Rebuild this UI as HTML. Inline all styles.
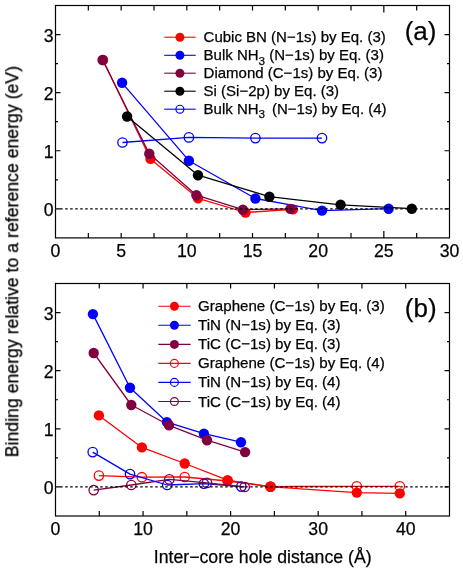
<!DOCTYPE html>
<html><head><meta charset="utf-8"><title>chart</title>
<style>html,body{margin:0;padding:0;background:#fff;overflow:hidden}svg{display:block}text{stroke:#000;stroke-width:0.25px;paint-order:stroke}</style>
</head><body>
<svg width="463" height="574" viewBox="0 0 463 574">
<rect width="463" height="574" fill="#fff"/>
<g font-family="'Liberation Sans', sans-serif" opacity="0.999"><g class="t">
<g stroke="#000" stroke-width="1.2" fill="none" stroke-linecap="butt">
<rect x="55.5" y="5.5" width="394.0" height="232.4"/>
<path d="M88.33 237.9 v-5 M88.33 5.5 v5"/>
<path d="M121.17 237.9 v-5 M121.17 5.5 v5"/>
<path d="M154.00 237.9 v-5 M154.00 5.5 v5"/>
<path d="M186.83 237.9 v-5 M186.83 5.5 v5"/>
<path d="M219.67 237.9 v-5 M219.67 5.5 v5"/>
<path d="M252.50 237.9 v-5 M252.50 5.5 v5"/>
<path d="M285.33 237.9 v-5 M285.33 5.5 v5"/>
<path d="M318.17 237.9 v-5 M318.17 5.5 v5"/>
<path d="M351.00 237.9 v-5 M351.00 5.5 v5"/>
<path d="M383.83 237.9 v-7 M383.83 5.5 v7"/>
<path d="M416.67 237.9 v-5 M416.67 5.5 v5"/>
<path d="M55.5 208.85 h5 M449.5 208.85 h-5"/>
<path d="M55.5 179.80 h2.5 M449.5 179.80 h-2.5"/>
<path d="M55.5 150.75 h5 M449.5 150.75 h-5"/>
<path d="M55.5 121.70 h2.5 M449.5 121.70 h-2.5"/>
<path d="M55.5 92.65 h5 M449.5 92.65 h-5"/>
<path d="M55.5 63.60 h2.5 M449.5 63.60 h-2.5"/>
<path d="M55.5 34.55 h5 M449.5 34.55 h-5"/>
</g>
<g font-size="17.7" fill="#000">
<text x="55.50" y="256.80" text-anchor="middle">0</text>
<text x="121.17" y="256.80" text-anchor="middle">5</text>
<text x="186.83" y="256.80" text-anchor="middle">10</text>
<text x="252.50" y="256.80" text-anchor="middle">15</text>
<text x="318.17" y="256.80" text-anchor="middle">20</text>
<text x="383.83" y="256.80" text-anchor="middle">25</text>
<text x="449.50" y="256.80" text-anchor="middle">30</text>
<text x="53.50" y="215.95" text-anchor="end">0</text>
<text x="53.50" y="157.85" text-anchor="end">1</text>
<text x="53.50" y="99.75" text-anchor="end">2</text>
<text x="53.50" y="41.65" text-anchor="end">3</text>
</g>
<path d="M103.0 60.0 L150.5 158.9 L198.0 198.3 L245.5 212.5 L292.9 209.4" fill="none" stroke="#ff0000" stroke-width="1.3" stroke-linejoin="round"/>
<circle cx="103.0" cy="60.0" r="5.2" fill="#ff0000"/>
<circle cx="150.5" cy="158.9" r="5.2" fill="#ff0000"/>
<circle cx="198.0" cy="198.3" r="5.2" fill="#ff0000"/>
<circle cx="245.5" cy="212.5" r="5.2" fill="#ff0000"/>
<circle cx="292.9" cy="209.4" r="5.2" fill="#ff0000"/>
<path d="M122.1 82.8 L188.9 160.7 L255.4 198.5 L322.0 210.6 L388.6 208.7" fill="none" stroke="#0000ff" stroke-width="1.3" stroke-linejoin="round"/>
<circle cx="122.1" cy="82.8" r="5.2" fill="#0000ff"/>
<circle cx="188.9" cy="160.7" r="5.2" fill="#0000ff"/>
<circle cx="255.4" cy="198.5" r="5.2" fill="#0000ff"/>
<circle cx="322.0" cy="210.6" r="5.2" fill="#0000ff"/>
<circle cx="388.6" cy="208.7" r="5.2" fill="#0000ff"/>
<path d="M102.6 60.0 L149.3 153.7 L196.4 195.2 L242.9 209.7 L290.4 208.9" fill="none" stroke="#800040" stroke-width="1.3" stroke-linejoin="round"/>
<circle cx="102.6" cy="60.0" r="5.2" fill="#800040"/>
<circle cx="149.3" cy="153.7" r="5.2" fill="#800040"/>
<circle cx="196.4" cy="195.2" r="5.2" fill="#800040"/>
<circle cx="242.9" cy="209.7" r="5.2" fill="#800040"/>
<circle cx="290.4" cy="208.9" r="5.2" fill="#800040"/>
<path d="M127.1 116.5 L198.0 175.2 L269.4 196.7 L340.6 204.8 L411.8 208.7" fill="none" stroke="#000000" stroke-width="1.3" stroke-linejoin="round"/>
<circle cx="127.1" cy="116.5" r="5.2" fill="#000000"/>
<circle cx="198.0" cy="175.2" r="5.2" fill="#000000"/>
<circle cx="269.4" cy="196.7" r="5.2" fill="#000000"/>
<circle cx="340.6" cy="204.8" r="5.2" fill="#000000"/>
<circle cx="411.8" cy="208.7" r="5.2" fill="#000000"/>
<path d="M122.5 142.5 L188.9 137.4 L255.4 138.1 L322.0 138.1" fill="none" stroke="#0000ff" stroke-width="1.3" stroke-linejoin="round"/>
<circle cx="122.5" cy="142.5" r="4.7" fill="none" stroke="#0000ff" stroke-width="1.3"/>
<circle cx="188.9" cy="137.4" r="4.7" fill="none" stroke="#0000ff" stroke-width="1.3"/>
<circle cx="255.4" cy="138.1" r="4.7" fill="none" stroke="#0000ff" stroke-width="1.3"/>
<circle cx="322.0" cy="138.1" r="4.7" fill="none" stroke="#0000ff" stroke-width="1.3"/>
<path d="M60.2 208.8 H449.5" stroke="#000" stroke-width="1.3" stroke-dasharray="2.5 2.5" fill="none"/>
<path d="M164.2 37.2 H195.7" stroke="#ff0000" stroke-width="1.1"/>
<circle cx="179.9" cy="37.2" r="4.5" fill="#ff0000"/>
<text x="203.6" y="42.00" font-size="15.0">Cubic BN (N−1s) by Eq. (3)</text>
<path d="M164.2 55.3 H195.7" stroke="#0000ff" stroke-width="1.1"/>
<circle cx="179.9" cy="55.3" r="4.5" fill="#0000ff"/>
<text x="203.6" y="60.10" font-size="15.0">Bulk NH<tspan font-size="11.7" dy="4.4">3</tspan><tspan dy="-4.4"> (N−1s) by Eq. (3)</tspan></text>
<path d="M164.2 73.2 H195.7" stroke="#800040" stroke-width="1.1"/>
<circle cx="179.9" cy="73.2" r="4.5" fill="#800040"/>
<text x="203.6" y="78.00" font-size="15.0">Diamond (C−1s) by Eq. (3)</text>
<path d="M164.2 91.2 H195.7" stroke="#000000" stroke-width="1.1"/>
<circle cx="179.9" cy="91.2" r="4.5" fill="#000000"/>
<text x="203.6" y="96.00" font-size="15.0">Si (Si−2p) by Eq. (3)</text>
<path d="M164.2 109.2 H195.7" stroke="#0000ff" stroke-width="1.1"/>
<circle cx="179.9" cy="109.2" r="3.95" fill="none" stroke="#0000ff" stroke-width="1.2"/>
<text x="203.6" y="114.00" font-size="15.0">Bulk NH<tspan font-size="11.7" dy="4.4">3</tspan><tspan dy="-4.4" dx="2.7"> (N−1s) by Eq. (4)</tspan></text>
<text x="404.7" y="40.3" font-size="26.0">(a)</text>
<g stroke="#000" stroke-width="1.2" fill="none" stroke-linecap="butt">
<rect x="55.5" y="283.5" width="394.0" height="232.5"/>
<path d="M99.28 516.0 v-5 M99.28 283.5 v5"/>
<path d="M143.06 516.0 v-5 M143.06 283.5 v5"/>
<path d="M186.83 516.0 v-5 M186.83 283.5 v5"/>
<path d="M230.61 516.0 v-5 M230.61 283.5 v5"/>
<path d="M274.39 516.0 v-5 M274.39 283.5 v5"/>
<path d="M318.17 516.0 v-5 M318.17 283.5 v5"/>
<path d="M361.94 516.0 v-5 M361.94 283.5 v5"/>
<path d="M405.72 516.0 v-5 M405.72 283.5 v5"/>
<path d="M55.5 486.94 h5 M449.5 486.94 h-5"/>
<path d="M55.5 457.88 h2.5 M449.5 457.88 h-2.5"/>
<path d="M55.5 428.81 h5 M449.5 428.81 h-5"/>
<path d="M55.5 399.75 h2.5 M449.5 399.75 h-2.5"/>
<path d="M55.5 370.69 h5 M449.5 370.69 h-5"/>
<path d="M55.5 341.62 h2.5 M449.5 341.62 h-2.5"/>
<path d="M55.5 312.56 h5 M449.5 312.56 h-5"/>
</g>
<g font-size="17.7" fill="#000">
<text x="55.50" y="534.90" text-anchor="middle">0</text>
<text x="143.06" y="534.90" text-anchor="middle">10</text>
<text x="230.61" y="534.90" text-anchor="middle">20</text>
<text x="318.17" y="534.90" text-anchor="middle">30</text>
<text x="405.72" y="534.90" text-anchor="middle">40</text>
<text x="53.50" y="494.04" text-anchor="end">0</text>
<text x="53.50" y="435.91" text-anchor="end">1</text>
<text x="53.50" y="377.79" text-anchor="end">2</text>
<text x="53.50" y="319.66" text-anchor="end">3</text>
</g>
<path d="M98.9 415.4 L141.9 447.4 L184.7 463.5 L227.6 480.2 L270.5 486.8 L356.8 492.6 L399.8 493.4" fill="none" stroke="#ff0000" stroke-width="1.3" stroke-linejoin="round"/>
<circle cx="98.9" cy="415.4" r="5.2" fill="#ff0000"/>
<circle cx="141.9" cy="447.4" r="5.2" fill="#ff0000"/>
<circle cx="184.7" cy="463.5" r="5.2" fill="#ff0000"/>
<circle cx="227.6" cy="480.2" r="5.2" fill="#ff0000"/>
<circle cx="270.5" cy="486.8" r="5.2" fill="#ff0000"/>
<circle cx="356.8" cy="492.6" r="5.2" fill="#ff0000"/>
<circle cx="399.8" cy="493.4" r="5.2" fill="#ff0000"/>
<path d="M92.9 314.1 L130.0 387.8 L166.9 422.1 L203.9 433.7 L241.0 442.2" fill="none" stroke="#0000ff" stroke-width="1.3" stroke-linejoin="round"/>
<circle cx="92.9" cy="314.1" r="5.2" fill="#0000ff"/>
<circle cx="130.0" cy="387.8" r="5.2" fill="#0000ff"/>
<circle cx="166.9" cy="422.1" r="5.2" fill="#0000ff"/>
<circle cx="203.9" cy="433.7" r="5.2" fill="#0000ff"/>
<circle cx="241.0" cy="442.2" r="5.2" fill="#0000ff"/>
<path d="M93.7 353.0 L131.3 405.0 L169.0 425.3 L207.0 440.2 L245.1 452.1" fill="none" stroke="#800040" stroke-width="1.3" stroke-linejoin="round"/>
<circle cx="93.7" cy="353.0" r="5.2" fill="#800040"/>
<circle cx="131.3" cy="405.0" r="5.2" fill="#800040"/>
<circle cx="169.0" cy="425.3" r="5.2" fill="#800040"/>
<circle cx="207.0" cy="440.2" r="5.2" fill="#800040"/>
<circle cx="245.1" cy="452.1" r="5.2" fill="#800040"/>
<path d="M98.9 475.6 L141.9 477.2 L184.7 477.0 L227.6 481.0 L270.5 486.6 L356.8 486.3 L399.8 486.3" fill="none" stroke="#ff0000" stroke-width="1.3" stroke-linejoin="round"/>
<circle cx="98.9" cy="475.6" r="4.7" fill="none" stroke="#ff0000" stroke-width="1.3"/>
<circle cx="141.9" cy="477.2" r="4.7" fill="none" stroke="#ff0000" stroke-width="1.3"/>
<circle cx="184.7" cy="477.0" r="4.7" fill="none" stroke="#ff0000" stroke-width="1.3"/>
<circle cx="227.6" cy="481.0" r="4.7" fill="none" stroke="#ff0000" stroke-width="1.3"/>
<circle cx="270.5" cy="486.6" r="4.7" fill="none" stroke="#ff0000" stroke-width="1.3"/>
<circle cx="356.8" cy="486.3" r="4.7" fill="none" stroke="#ff0000" stroke-width="1.3"/>
<circle cx="399.8" cy="486.3" r="4.7" fill="none" stroke="#ff0000" stroke-width="1.3"/>
<path d="M92.7 452.1 L130.0 474.1 L167.2 485.0 L203.9 483.7 L241.3 486.6" fill="none" stroke="#0000ff" stroke-width="1.3" stroke-linejoin="round"/>
<circle cx="92.7" cy="452.1" r="4.7" fill="none" stroke="#0000ff" stroke-width="1.3"/>
<circle cx="130.0" cy="474.1" r="4.7" fill="none" stroke="#0000ff" stroke-width="1.3"/>
<circle cx="167.2" cy="485.0" r="4.7" fill="none" stroke="#0000ff" stroke-width="1.3"/>
<circle cx="203.9" cy="483.7" r="4.7" fill="none" stroke="#0000ff" stroke-width="1.3"/>
<circle cx="241.3" cy="486.6" r="4.7" fill="none" stroke="#0000ff" stroke-width="1.3"/>
<path d="M93.7 490.1 L131.3 485.0 L169.3 479.4 L207.0 482.9 L244.7 487.0" fill="none" stroke="#800040" stroke-width="1.3" stroke-linejoin="round"/>
<circle cx="93.7" cy="490.1" r="4.7" fill="none" stroke="#800040" stroke-width="1.3"/>
<circle cx="131.3" cy="485.0" r="4.7" fill="none" stroke="#800040" stroke-width="1.3"/>
<circle cx="169.3" cy="479.4" r="4.7" fill="none" stroke="#800040" stroke-width="1.3"/>
<circle cx="207.0" cy="482.9" r="4.7" fill="none" stroke="#800040" stroke-width="1.3"/>
<circle cx="244.7" cy="487.0" r="4.7" fill="none" stroke="#800040" stroke-width="1.3"/>
<path d="M60.2 486.85 H449.5" stroke="#000" stroke-width="1.3" stroke-dasharray="2.5 2.5" fill="none"/>
<path d="M158.3 306.3 H190.7" stroke="#ff0000" stroke-width="1.1"/>
<circle cx="174.4" cy="306.3" r="4.5" fill="#ff0000"/>
<text x="198.1" y="311.30" font-size="15.1">Graphene (C−1s) by Eq. (3)</text>
<path d="M158.3 325.3 H190.7" stroke="#0000ff" stroke-width="1.1"/>
<circle cx="174.4" cy="325.3" r="4.5" fill="#0000ff"/>
<text x="198.1" y="330.30" font-size="15.1">TiN (N−1s) by Eq. (3)</text>
<path d="M158.3 344.4 H190.7" stroke="#800040" stroke-width="1.1"/>
<circle cx="174.4" cy="344.4" r="4.5" fill="#800040"/>
<text x="198.1" y="349.40" font-size="15.1">TiC (C−1s) by Eq. (3)</text>
<path d="M158.3 363.4 H190.7" stroke="#ff0000" stroke-width="1.1"/>
<circle cx="174.4" cy="363.4" r="3.95" fill="none" stroke="#ff0000" stroke-width="1.2"/>
<text x="198.1" y="368.40" font-size="15.1">Graphene (C−1s) by Eq. (4)</text>
<path d="M158.3 382.4 H190.7" stroke="#0000ff" stroke-width="1.1"/>
<circle cx="174.4" cy="382.4" r="3.95" fill="none" stroke="#0000ff" stroke-width="1.2"/>
<text x="198.1" y="387.40" font-size="15.1">TiN (N−1s) by Eq. (4)</text>
<path d="M158.3 401.5 H190.7" stroke="#800040" stroke-width="1.1"/>
<circle cx="174.4" cy="401.5" r="3.95" fill="none" stroke="#800040" stroke-width="1.2"/>
<text x="198.1" y="406.50" font-size="15.1">TiC (C−1s) by Eq. (4)</text>
<text x="404.8" y="316.6" font-size="26.0">(b)</text>
<text x="153.8" y="563" font-size="17.7">Inter−core hole distance (Å)</text>
<text transform="translate(18.2 457.3) rotate(-90)" font-size="17.7">Binding energy relative to a reference energy (eV)</text>
</g></g>
</svg>
</body></html>
